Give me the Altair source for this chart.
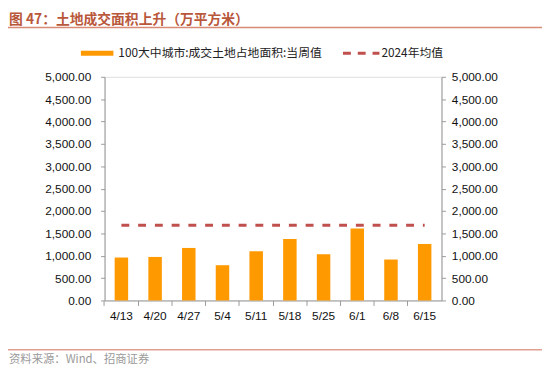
import altair as alt
import pandas as pd

dates = ["4/13", "4/20", "4/27", "5/4", "5/11", "5/18", "5/25", "6/1", "6/8", "6/15"]
weekly = [960, 973, 1174, 788, 1100, 1375, 1033, 1607, 915, 1263]
avg2024 = [1680] * len(dates)
y_ticks = [0, 500, 1000, 1500, 2000, 2500, 3000, 3500, 4000, 4500, 5000]

title_text = "图 47：土地成交面积上升（万平方米）"
legend_bar = "100大中城市:成交土地占地面积:当周值"
legend_line = "2024年均值"
source_text = "资料来源：Wind、招商证券"

df = pd.DataFrame({"date": dates, "value": weekly, "avg": avg2024})
one = pd.DataFrame({"k": [0]})

FONT = "Liberation Sans, Arial, Noto Sans CJK SC"
CJK = "Noto Sans CJK SC, Liberation Sans"

xenc = alt.X(
    "date:N", sort=dates, title=None,
    scale=alt.Scale(paddingInner=0.6, paddingOuter=0.3),
    axis=alt.Axis(labelAngle=0, bandPosition=-0.75, tickSize=5, labelPadding=5,
                  domainColor="#999999", tickColor="#999999", labelColor="#111111",
                  labelFontSize=12, labelFont=FONT, grid=False),
)
yscale = alt.Scale(domain=[0, 5000], nice=False)

bars = alt.Chart(df).mark_bar(color="#FF9900").encode(
    x=xenc,
    y=alt.Y("value:Q", scale=yscale, title=None,
            axis=alt.Axis(values=y_ticks, format=",.2f", orient="left", grid=False,
                          tickSize=4, labelPadding=10, domainColor="#999999",
                          tickColor="#999999", labelColor="#111111",
                          labelFontSize=12, labelFont=FONT)),
)

line = alt.Chart(df).mark_line(color="#C0504D", strokeWidth=3, strokeDash=[8, 9]).encode(
    x=alt.X("date:N", sort=dates),
    y=alt.Y("avg:Q", scale=yscale, axis=None),
)

right_axis = alt.Chart(df).mark_point(opacity=0).encode(
    x=alt.X("date:N", sort=dates),
    y=alt.Y("value:Q", scale=yscale, title=None,
            axis=alt.Axis(values=y_ticks, format=",.2f", orient="right", grid=False,
                          tickSize=4, labelPadding=6, domainColor="#999999",
                          tickColor="#999999", labelColor="#111111",
                          labelFontSize=12, labelFont=FONT)),
)

base = alt.Chart(one)

title = base.mark_text(align="left", baseline="middle", fontSize=14, fontWeight="bold",
                       font=CJK, color="#B9573B").encode(
    x=alt.value(-97), y=alt.value(-58), text=alt.value(title_text))
title_rule = base.mark_rule(color="#D98A74", strokeWidth=1.5).encode(
    x=alt.value(-98), x2=alt.value(444), y=alt.value(-50))

leg_rect = base.mark_rect(color="#FF9900").encode(
    x=alt.value(-24), x2=alt.value(9), y=alt.value(-26.5), y2=alt.value(-21.5))
leg_text1 = base.mark_text(align="left", baseline="middle", fontSize=12, font=CJK,
                           color="#222222").encode(
    x=alt.value(14), y=alt.value(-24), text=alt.value(legend_bar))
leg_dash = base.mark_rule(color="#C0504D", strokeWidth=3, strokeDash=[8, 7]).encode(
    x=alt.value(242), x2=alt.value(279), y=alt.value(-24))
leg_text2 = base.mark_text(align="left", baseline="middle", fontSize=12, font=CJK,
                           color="#222222").encode(
    x=alt.value(281), y=alt.value(-24), text=alt.value(legend_line))

foot_rule = base.mark_rule(color="#E0A090", strokeWidth=1.5).encode(
    x=alt.value(-98), x2=alt.value(444), y=alt.value(277))
foot_text = base.mark_text(align="left", baseline="middle", fontSize=11.5, font=CJK,
                           color="#9A9A9A").encode(
    x=alt.value(-97), y=alt.value(287), text=alt.value(source_text))

chart = alt.layer(
    bars, line, right_axis,
    title, title_rule, leg_rect, leg_text1, leg_dash, leg_text2, foot_rule, foot_text,
).resolve_scale(y="independent").properties(
    width=342, height=227,
    autosize=alt.AutoSizeParams(type="none"),
    padding={"left": 98, "top": 67, "right": 102, "bottom": 85},
).configure_view(stroke=None).configure(background="white")

chart.save("out.html", embed_options={"renderer": "svg", "actions": False})
